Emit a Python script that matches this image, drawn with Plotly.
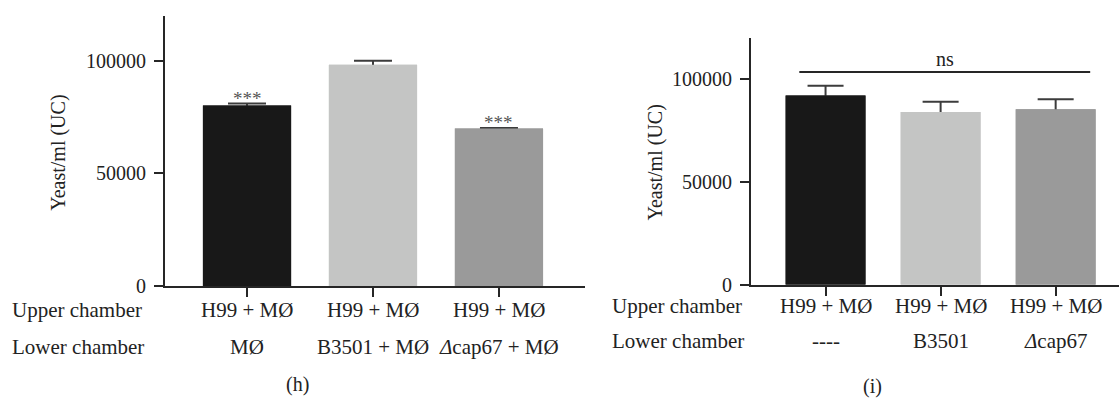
import plotly.graph_objects as go

# ---------------- data ----------------
categories = ["A", "B", "C"]
upper_h = ["H99 + MØ", "H99 + MØ", "H99 + MØ"]
lower_h = ["MØ", "B3501 + MØ", "<i>Δ</i>cap67 + MØ"]
values_h = [80200, 98300, 69900]
errors_h = [800, 1700, 300]
signif_h = ["***", "", "***"]

upper_i = ["H99 + MØ", "H99 + MØ", "H99 + MØ"]
lower_i = ["----", "B3501", "<i>Δ</i>cap67"]
values_i = [92000, 84000, 85300]
errors_i = [4700, 5000, 4900]
ns_label = "ns"
ns_level = 103450
ns_span = [-0.228, 2.30]

y_ticks = [0, 50000, 100000]
bar_colors = ["#181818", "#c4c5c4", "#9a9a9a"]

# ---------------- layout helpers ----------------
W, H = 1119, 406
FONT = "'Liberation Serif', 'Times New Roman', 'DejaVu Serif', serif"
TXT = "#222222"
AX = "#262626"

def px(x):
    return x / W

def py(y):
    return (H - y) / H

fig = go.Figure()

def add_panel(xa, ya, vals, errs, width, capw):
    fig.add_trace(go.Bar(
        x=list(range(len(vals))), y=vals, width=width,
        marker=dict(color=bar_colors, line=dict(width=0)),
        error_y=dict(type="data", array=errs, symmetric=True, color="#3c3c3c",
                     thickness=2, width=capw),
        xaxis=xa, yaxis=ya, showlegend=False, hoverinfo="skip"))
    fig.add_trace(go.Bar(
        x=list(range(len(vals))), y=vals, width=width,
        marker=dict(color=bar_colors, line=dict(width=0)),
        xaxis=xa, yaxis=ya, showlegend=False, hoverinfo="skip"))

add_panel("x", "y", values_h, errors_h, 0.70, 19)
add_panel("x2", "y2", values_i, errors_i, 0.694, 18)

axis_common = dict(showline=True, linecolor=AX, linewidth=2, ticks="outside",
                   tickcolor=AX, tickwidth=2, ticklen=9, showgrid=False,
                   zeroline=False, fixedrange=True,
                   tickfont=dict(family=FONT, size=20, color=TXT))

fig.update_layout(
    width=W, height=H, margin=dict(l=0, r=0, t=0, b=0),
    paper_bgcolor="white", plot_bgcolor="white", barmode="overlay",
    font=dict(family=FONT, color=TXT),
    xaxis=dict(domain=[px(165), px(585)], range=[-0.651, 2.683], anchor="y",
               tickvals=[0, 1, 2], showticklabels=False, **axis_common),
    yaxis=dict(domain=[py(294), py(16.2)], range=[0, 120000], anchor="x",
               tickvals=y_ticks, ticktext=[str(v) for v in y_ticks],
               ticklabelstandoff=4, **axis_common),
    xaxis2=dict(domain=[px(751), 1.0], range=[-0.648, 2.5505], anchor="y2",
                tickvals=[0, 1, 2], showticklabels=False, **axis_common),
    yaxis2=dict(domain=[py(292.7), py(39.0)], range=[0, 120000], anchor="x2",
                tickvals=y_ticks, ticktext=[str(v) for v in y_ticks],
                ticklabelstandoff=4, **axis_common),
)

ann = []
lab_font = dict(family=FONT, size=21, color=TXT)

for i in range(3):
    ann.append(dict(x=i, xref="x", y=py(319), yref="paper", text=upper_h[i],
                    showarrow=False, font=lab_font, xanchor="center", yanchor="middle"))
    ann.append(dict(x=i, xref="x", y=py(357), yref="paper", text=lower_h[i],
                    showarrow=False, font=lab_font, xanchor="center", yanchor="middle"))
    ann.append(dict(x=i, xref="x2", y=py(315), yref="paper", text=upper_i[i],
                    showarrow=False, font=lab_font, xanchor="center", yanchor="middle"))
    ann.append(dict(x=i, xref="x2", y=py(350), yref="paper", text=lower_i[i],
                    showarrow=False, font=lab_font, xanchor="center", yanchor="middle"))

for txt, xx, yy in [("Upper chamber", 10, 319), ("Lower chamber", 10, 357),
                    ("Upper chamber", 610, 315), ("Lower chamber", 610, 350)]:
    ann.append(dict(x=px(xx), xref="paper", y=py(yy), yref="paper", text=txt,
                    showarrow=False, font=lab_font, xanchor="left", yanchor="middle"))

for i in range(3):
    if signif_h[i]:
        ann.append(dict(x=i, xref="x", y=values_h[i] + errors_h[i], yref="y",
                        text=signif_h[i], showarrow=False, yshift=5,
                        font=dict(family=FONT, size=19, color="#555555"),
                        xanchor="center", yanchor="middle"))

ann.append(dict(x=sum(ns_span) / 2, xref="x2", y=ns_level, yref="y2", text=ns_label,
                showarrow=False, yshift=13, font=dict(family=FONT, size=20, color=TXT),
                xanchor="center", yanchor="middle"))

for xx, yy in [(59, 157), (655, 167)]:
    ann.append(dict(x=px(xx), xref="paper", y=py(yy), yref="paper", text="Yeast/ml (UC)",
                    textangle=-90, showarrow=False,
                    font=dict(family=FONT, size=20, color=TXT),
                    xanchor="center", yanchor="middle"))

ann.append(dict(x=px(297.5), xref="paper", y=py(395), yref="paper", text="(h)",
                showarrow=False, font=dict(family=FONT, size=20, color=TXT),
                xanchor="center", yanchor="middle"))
ann.append(dict(x=px(872.5), xref="paper", y=py(397), yref="paper", text="(i)",
                showarrow=False, font=dict(family=FONT, size=20, color=TXT),
                xanchor="center", yanchor="middle"))

fig.update_layout(annotations=ann)

fig.add_shape(type="line", xref="x2", yref="y2", x0=ns_span[0], x1=ns_span[1],
              y0=ns_level, y1=ns_level, line=dict(color=AX, width=2))

fig.write_html("out.html", config={"displayModeBar": False},
               post_script="document.body.style.margin='0';"
                           "document.body.style.overflow='hidden';")
